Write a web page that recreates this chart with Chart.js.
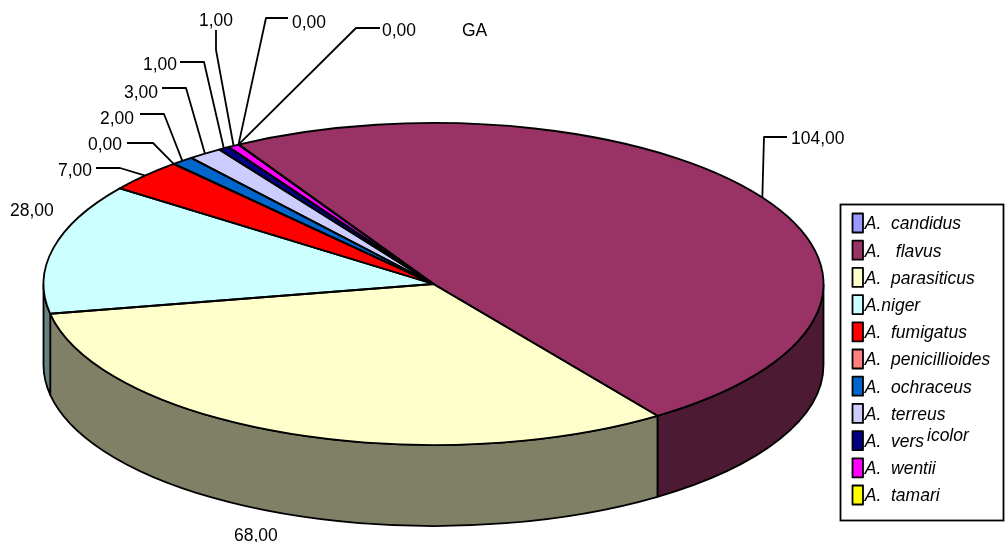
<!DOCTYPE html>
<html><head><meta charset="utf-8">
<style>html,body{margin:0;padding:0;background:#fff}canvas{display:block}</style>
<script src="https://cdn.jsdelivr.net/npm/chart.js@4"></script>
</head><body>
<canvas id="c" width="1008" height="542"></canvas>
<script>
const categories = ['A.  candidus', 'A.   flavus', 'A.  parasiticus', 'A.niger', 'A.  fumigatus', 'A.  penicillioides', 'A.  ochraceus', 'A.  terreus', 'A.  vers', 'A.  wentii', 'A.  tamari'];
const values = [0, 104, 68, 28, 7, 0, 2, 3, 1, 1, 0];
const colors = ['#9999FF', '#993366', '#FFFFCC', '#CCFFFF', '#FF0000', '#FF8080', '#0066CC', '#CCCCFF', '#000080', '#FF00FF', '#FFFF00'];
const sideColors = ['#4D4D80', '#4D1A33', '#808066', '#668080', '#800000', '#804040', '#003366', '#666680', '#000040', '#800080', '#808000'];

// Presentation of the tilted pie
const geo = { cx: 433.5, cy: 284, rx: 390, ry: 161, depth: 81, rotation: -30 };
const FONT = '17.5px "Liberation Sans"';
const LINE = 1.8;
// label text start, text centre y, elbow points of the leader (none when empty)
const labelLayout = [
  { x: 382, y: 31, path: [[356, 28], [380, 28]] },
  { x: 791, y: 139, path: [[764, 137], [787, 137]] },
  { x: 234, y: 536, path: [] },
  { x: 10, y: 211, path: [] },
  { x: 58, y: 171, path: [[120, 168], [96, 168]] },
  { x: 88, y: 145, path: [[153, 143], [127, 143]] },
  { x: 100, y: 119, path: [[164, 114], [140, 114]] },
  { x: 124, y: 93, path: [[186, 88], [162, 88]] },
  { x: 143, y: 65, path: [[204, 62], [180, 62]] },
  { x: 199, y: 21, path: [[216, 50], [216, 30]] },
  { x: 292, y: 23, path: [[266, 18], [288, 18]] }
];
const fmt = v => v.toFixed(2).replace('.', ',');

const pie3d = {
  id: 'pie3d',
  afterLayout(chart) {
    const l = chart.legend;
    l.left = 843.8; l.top = 206.8; l.right = 1003; l.bottom = 542;
  },
  beforeDraw(chart) {
    const c = chart.ctx;
    c.save(); c.strokeStyle = '#000'; c.lineWidth = LINE;
    c.strokeRect(840.5, 204.5, 163, 316);
    c.restore();
  },
  beforeDatasetsDraw(chart) {
    const c = chart.ctx, arcs = chart.getDatasetMeta(0).data, g = geo;
    c.save();
    c.lineWidth = LINE; c.strokeStyle = '#000'; c.lineJoin = 'round';
    arcs.forEach((a, i) => {
      const s = Math.max(a.startAngle, 0), e = Math.min(a.endAngle, Math.PI);
      if (e <= s) return;
      c.beginPath();
      c.ellipse(g.cx, g.cy, g.rx, g.ry, 0, s, e);
      c.ellipse(g.cx, g.cy + g.depth, g.rx, g.ry, 0, e, s, true);
      c.closePath();
      c.fillStyle = sideColors[i];
      c.fill(); c.stroke();
    });
    c.restore();
    const a = arcs[0], R = a.outerRadius;
    c.save();
    c.translate(g.cx, g.cy);
    c.scale(g.rx / R, g.ry / R);
    c.translate(-a.x, -a.y);
  },
  afterDatasetsDraw(chart) {
    const c = chart.ctx, arcs = chart.getDatasetMeta(0).data, g = geo;
    c.restore();
    c.save();
    c.lineWidth = LINE; c.strokeStyle = '#000'; c.lineJoin = 'round';
    arcs.forEach(a => {
      c.beginPath();
      c.moveTo(g.cx, g.cy);
      c.ellipse(g.cx, g.cy, g.rx, g.ry, 0, a.startAngle, a.endAngle);
      c.closePath();
      c.stroke();
    });
    // data labels and their leaders
    c.font = FONT; c.fillStyle = '#000'; c.textBaseline = 'middle'; c.textAlign = 'left';
    values.forEach((v, i) => {
      const slot = labelLayout[i];
      const a = arcs[i], m = (a.startAngle + a.endAngle) / 2;
      if (slot.path.length) {
        c.beginPath();
        c.moveTo(g.cx + g.rx * Math.cos(m), g.cy + g.ry * Math.sin(m));
        slot.path.forEach(p => c.lineTo(p[0], p[1]));
        c.stroke();
      }
      c.fillText(fmt(v), slot.x, slot.y);
    });
    c.fillText('GA', 462, 31);
    // legend swatches and the raised part of one legend entry
    colors.forEach((col, i) => {
      const y = 213.5 + 27.2 * i;
      c.fillStyle = col;
      c.fillRect(852.5, y, 10.5, 19);
      c.strokeRect(852.5, y, 10.5, 19);
    });
    c.fillStyle = '#000';
    c.font = 'italic ' + FONT;
    c.fillText('icolor', 927, 436);
    c.restore();
  }
};

new Chart(document.getElementById('c'), {
  type: 'pie',
  data: {
    labels: categories,
    datasets: [{ data: values, backgroundColor: colors, borderWidth: 0, clip: false }]
  },
  options: {
    responsive: false,
    animation: false,
    rotation: geo.rotation,
    events: [],
    plugins: {
      tooltip: { enabled: false },
      legend: {
        position: 'right',
        align: 'start',
        labels: {
          boxWidth: 4, boxHeight: 19, padding: 8.2, color: '#000',
          font: { family: 'Liberation Sans', size: 17.5, style: 'italic' },
          generateLabels: ch => ch.data.labels.map((t, i) => ({
            text: t, fillStyle: 'rgba(0,0,0,0)', strokeStyle: 'rgba(0,0,0,0)', lineWidth: 0, index: i, hidden: false
          }))
        }
      }
    }
  },
  plugins: [pie3d]
});
</script>
</body></html>
